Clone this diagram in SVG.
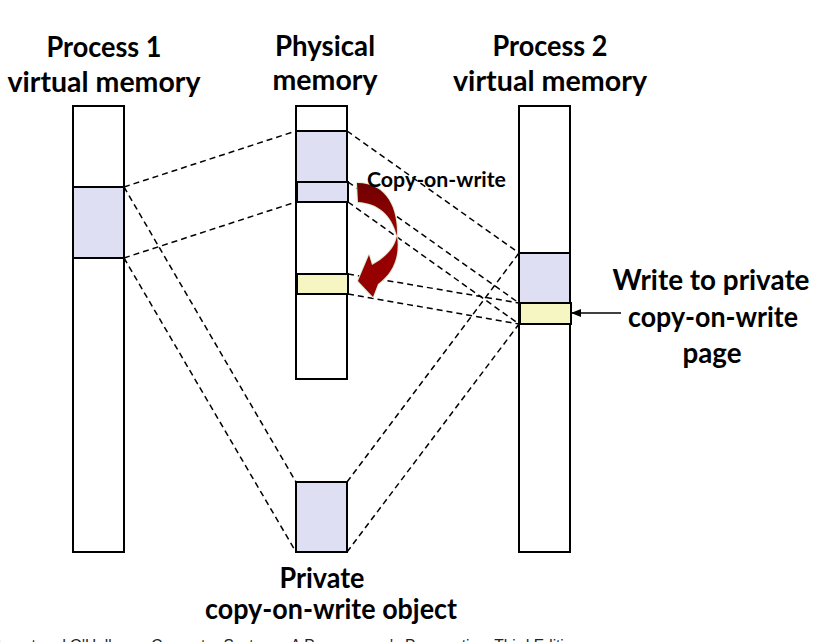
<svg xmlns="http://www.w3.org/2000/svg" width="815" height="642" viewBox="0 0 815 642">
<defs>
<style>
.col{fill:#ffffff;stroke:#000;stroke-width:2}
.sh{fill:#dfdff3;stroke:#000;stroke-width:2}
.yl{fill:#f6f6c2;stroke:#000;stroke-width:2}
.dl{fill:none;stroke:#000;stroke-width:1.5;stroke-dasharray:6,4}
.hd{font-family:Lato,"Liberation Sans",sans-serif;font-weight:700;font-size:28px;fill:#000;text-anchor:middle}
.lb{font-family:Lato,"Liberation Sans",sans-serif;font-weight:700;font-size:21px;fill:#000}
.ft{font-family:"Liberation Sans",sans-serif;font-size:16px;fill:#222}
</style>
<linearGradient id="cw" x1="0" y1="0" x2="0" y2="1">
<stop offset="0" stop-color="#6e0000"/>
<stop offset="1" stop-color="#a00000"/>
</linearGradient>
<marker id="ah" markerWidth="10" markerHeight="8" refX="9" refY="4" orient="auto" markerUnits="userSpaceOnUse">
<path d="M0,0 L10,4 L0,8 Z" fill="#000"/>
</marker>
</defs>

<g id="connectors">
<line class="dl" x1="124" y1="187" x2="296" y2="131"/>
<line class="dl" x1="124" y1="258" x2="296" y2="202"/>
<line class="dl" x1="124" y1="187" x2="296" y2="482"/>
<line class="dl" x1="124" y1="258" x2="296" y2="552"/>
<line class="dl" x1="347" y1="131" x2="519" y2="253"/>
<line class="dl" x1="348" y1="182" x2="519" y2="303"/>
<line class="dl" x1="348" y1="202" x2="519" y2="324"/>
<line class="dl" x1="348" y1="274" x2="519" y2="303"/>
<line class="dl" x1="348" y1="294" x2="519" y2="324"/>
<line class="dl" x1="347" y1="482" x2="519" y2="253"/>
<line class="dl" x1="347" y1="552" x2="519" y2="324"/>
<line x1="621" y1="313" x2="572" y2="313" stroke="#000" stroke-width="1.5" marker-end="url(#ah)"/>
</g>

<g id="process1">
<text class="hd" x="104" y="57" textLength="115" lengthAdjust="spacingAndGlyphs">Process 1</text>
<text class="hd" x="104" y="92" textLength="193" lengthAdjust="spacingAndGlyphs">virtual memory</text>
<rect class="col" x="73" y="106" width="51" height="446"/>
<rect class="sh" x="73" y="187" width="51" height="71"/>
</g>

<g id="physical">
<text class="hd" x="325" y="56" textLength="100" lengthAdjust="spacingAndGlyphs">Physical</text>
<text class="hd" x="325" y="90" textLength="105" lengthAdjust="spacingAndGlyphs">memory</text>
<rect class="col" x="296" y="106" width="51" height="273"/>
<rect class="sh" x="296" y="131" width="51" height="51"/>
<rect class="sh" x="297" y="182" width="51" height="20"/>
<rect class="yl" x="297" y="274" width="51" height="20"/>
</g>

<g id="process2">
<text class="hd" x="550" y="56" textLength="115" lengthAdjust="spacingAndGlyphs">Process 2</text>
<text class="hd" x="550" y="91" textLength="194" lengthAdjust="spacingAndGlyphs">virtual memory</text>
<rect class="col" x="519" y="106" width="51" height="446"/>
<rect class="sh" x="519" y="253" width="51" height="50"/>
<rect class="yl" x="520" y="303" width="51" height="21"/>
</g>

<g id="object">
<rect class="sh" x="296" y="482" width="51" height="70"/>
<text class="hd" x="322" y="588" textLength="85" lengthAdjust="spacingAndGlyphs">Private</text>
<text class="hd" x="331" y="619" textLength="252" lengthAdjust="spacingAndGlyphs">copy-on-write object</text>
</g>

<g id="copy-arrow">
<path d="M357,183 C388,183 398,210 397,236 C392,215 378,203 358,202 Z" fill="url(#cw)" stroke="#d8ecd0" stroke-width="2" stroke-linejoin="round" paint-order="stroke"/>
<path d="M397,236 C400,257 393,273 378,284 L373,297 L358,281 L369,255 L372,265 C385,258 395,248 397,236 Z" fill="#960000" stroke="#d8ecd0" stroke-width="2" stroke-linejoin="round" paint-order="stroke"/>
<text class="lb" x="367" y="187" textLength="139" lengthAdjust="spacingAndGlyphs">Copy-on-write</text>
</g>

<g id="write-label">
<text class="hd" x="711" y="290" textLength="197" lengthAdjust="spacingAndGlyphs">Write to private</text>
<text class="hd" x="713" y="327" textLength="170" lengthAdjust="spacingAndGlyphs">copy-on-write</text>
<text class="hd" x="712" y="363" textLength="59" lengthAdjust="spacingAndGlyphs">page</text>
</g>

<text class="ft" x="-9" y="651" textLength="590" lengthAdjust="spacingAndGlyphs">Bryant and O'Hallaron, Computer Systems: A Programmer's Perspective, Third Edition</text>
</svg>
